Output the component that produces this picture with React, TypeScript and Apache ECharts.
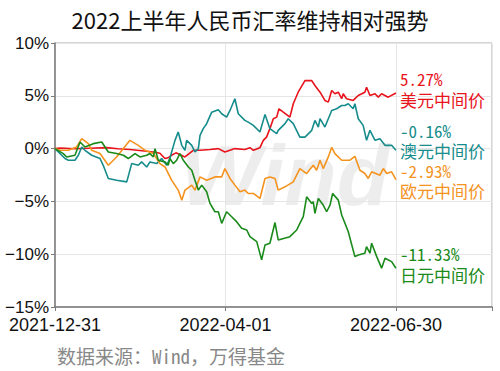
import React, { useEffect, useRef } from "react";
import * as echarts from "echarts";

const chartTitle = "2022上半年人民币汇率维持相对强势";
const sourceText = "数据来源：Wind，万得基金";
const watermarkText = "Wind";
const xTickDays = [0, 91, 181];
const xTickLabels = ["2021-12-31", "2022-04-01", "2022-06-30"];
const seriesNames = ["美元中间价", "澳元中间价", "欧元中间价", "日元中间价"];
const seriesColors = ["#E8131B", "#168C8C", "#F5931F", "#1A8A1A"];

// [days since 2021-12-31, cumulative change %]
const usd: [number, number][] = [
  [0, 0], [2.7, 0.06], [10.6, -0.02], [18.6, 0.03], [27.4, 0.09], [33.4, -0.02], [39.8, -0.09],
  [48.7, -0.25], [53.1, -0.35], [55.7, -0.44], [58.4, -0.94], [60, -0.87], [61.9, -0.63], [64.2, -0.4],
  [69, -0.79], [73.4, -0.16], [77, -0.16], [82.3, -0.09], [86.7, 0], [90.2, -0.32], [95.5, 0],
  [100.8, -0.09], [103.5, 0.09], [105.3, -0.16], [108.8, 0.09], [110.6, 0.78], [112.3, 1.09],
  [114.1, 1.89], [115.9, 2.83], [117.7, 2.98], [118.9, 3.77], [121.2, 3.45], [124.7, 2.98],
  [126.5, 4.25], [129.1, 5.34], [132.7, 6.44], [136.3, 6.44], [138, 5.97], [140.7, 5.34],
  [143.3, 4.56], [145.1, 4.4], [146.9, 5.5], [148.6, 5.19], [150.4, 5.34], [152.2, 4.72], [153, 5.19],
  [154.8, 4.72], [158.3, 4.56], [161, 5.03], [164.5, 5.34], [165.4, 5.81], [167.2, 5.03], [169.9, 5.19],
  [171.6, 4.87], [173.4, 5.19], [176.9, 4.87], [181, 5.27],
];
const aud: [number, number][] = [
  [0, 0], [5.3, -0.94], [7.1, -1.1], [10.6, -1.1], [12.4, -0.63], [14.2, 0.15], [15.9, -0.16],
  [19.5, -0.63], [23.9, -0.94], [25.6, -1.58], [28.3, -2.83], [32.7, -2.99], [38.1, -3.15],
  [40.7, -1.42], [44.2, -1.58], [46, -1.26], [48.7, -1.74], [50.4, -1.26], [54, -1.42], [56.6, -0.94],
  [59.3, -1.58], [61, -0.92], [63.7, 0.78], [65.4, 1.57], [67.3, 0.31], [69, -0.16], [69.9, 0.78],
  [72.6, 0.31], [74.3, -0.32], [76.1, 0], [77, 1.25], [78.7, 1.89], [80.5, 2.36], [83.2, 3.45],
  [86.7, 3.68], [88.5, 3.3], [91.1, 2.98], [92.9, 3.61], [95.5, 4.72], [97.3, 3.3], [100.8, 2.67],
  [102.6, 2.51], [105.3, 2.2], [108.8, 1.57], [111.5, 3.24], [114.1, 1.89], [117.7, 1.42],
  [118.5, 1.73], [122.1, 2.36], [123.8, 2.83], [126.5, 2.36], [127.4, 2.04], [130, 1.09],
  [132.7, 1.09], [136.3, 1.73], [138, 2.67], [139.8, 2.04], [140.7, 2.83], [143.3, 2.04],
  [146.9, 3.61], [149.5, 3.77], [152.2, 4.08], [153.9, 4.08], [155.7, 4.25], [158.3, 3.77],
  [159.2, 4.25], [161, 2.83], [163.6, 2.2], [165.4, 0.78], [167.2, 1.73], [169.9, 0.78],
  [172.5, 0.94], [175.2, 0.31], [178.7, 0.31], [181, -0.16],
];
const eur: [number, number][] = [
  [0, 0], [2.7, -0.16], [7.1, -0.16], [11.5, 0.15], [14.2, 0.94], [17.7, 0.47], [19.5, -0.16],
  [23.9, -0.47], [28.3, -1.58], [32.7, -0.79], [39.8, 0.78], [44.2, 0.31], [47.8, -0.16],
  [52.2, -0.47], [55.7, -1.42], [58.4, -1.74], [61.9, -2.99], [65.4, -3.93], [67.3, -4.88],
  [69, -3.93], [72.6, -3.46], [74.3, -3.93], [77, -2.68], [80.5, -2.99], [84.9, -2.68],
  [88.5, -2.68], [90.2, -1.89], [92.9, -2.83], [95.5, -3.46], [98.2, -4.09], [100.8, -3.93],
  [102.6, -4.25], [105.3, -4.25], [108.8, -4.72], [111.5, -2.83], [114.1, -2.68], [116.8, -2.83],
  [118.5, -3.93], [122.1, -3.62], [126.5, -3.15], [130, -1.89], [133.6, -2.36], [137.1, -1.58],
  [138.9, -2.05], [140.7, -1.1], [142.4, -1.89], [145.1, -0.79], [146.9, 0.12], [148.6, -0.47],
  [152.2, -1.1], [156.6, -1.1], [159.2, -0.73], [161.9, -2.05], [164.5, -2.36], [166.3, -2.83],
  [168.1, -2.2], [172.5, -2.52], [174.3, -1.89], [176.1, -2.36], [178.7, -2.2], [181, -2.93],
];
const jpy: [number, number][] = [
  [0, 0], [4.4, -0.47], [6.2, -0.79], [10.6, -0.63], [13.3, 0.62], [15.9, 0.15], [20.3, 0.47],
  [24.8, 0.62], [28.3, -0.32], [32.7, -0.47], [36.3, -0.63], [38.9, -0.94], [42.5, -0.47],
  [45.1, -0.79], [48.7, -0.63], [50.4, -0.47], [52.2, -0.79], [53.1, 0], [54.8, -1.1], [58.4, -1.26],
  [60.1, -1.58], [61, -0.94], [62.8, -1.42], [64.6, -1.1], [66.3, -0.47], [68.1, -1.1],
  [70.8, -1.74], [72.6, -2.05], [74.3, -2.99], [76.1, -3.93], [77.9, -3.46], [80.5, -4.09],
  [82.3, -5.19], [84.9, -5.98], [86.7, -5.98], [88.5, -7.08], [91.1, -5.98], [93.8, -6.45],
  [96.4, -6.92], [99.1, -7.55], [101.8, -7.71], [103.5, -8.34], [107.1, -8.81], [109.7, -10.54],
  [111.5, -9.12], [114.1, -8.96], [116.8, -7.0], [118.5, -8.65], [124.7, -8.34], [128.3, -7.71],
  [130, -7.08], [131.8, -6.45], [133.6, -4.57], [136.3, -5.19], [137.1, -5.03], [138, -6.13],
  [139.8, -4.72], [142.4, -5.35], [144.2, -5.98], [146, -5.35], [147.4, -4.25], [150.4, -4.88],
  [152.2, -6.29], [155.7, -7.87], [159.2, -10.23], [161, -10.07], [164.5, -9.91], [165.4, -9.28],
  [167.2, -9.91], [168.1, -8.96], [170.8, -10.23], [173.4, -11.32], [175.2, -10.38],
  [178.7, -10.7], [181, -11.33],
];
const seriesData = [usd, aud, eur, jpy];
const labelOffsets = [-4, -10, 1, -4];

const monoCJK = "'Noto Sans Mono CJK SC', 'Noto Sans CJK SC', monospace";

export default function App() {
  const ref = useRef<HTMLDivElement>(null);
  useEffect(() => {
    if (!ref.current) return;
    const chart = echarts.init(ref.current, null, { renderer: "svg" });
    chart.setOption({
      animation: false,
      backgroundColor: "#fff",
      title: {
        text: chartTitle,
        left: "center",
        top: 3,
        textStyle: { fontSize: 22, fontWeight: "normal", color: "#111", fontFamily: "'Noto Sans CJK SC', sans-serif" },
      },
      graphic: [
        {
          type: "text",
          x: 180,
          y: 175,
          z: 0,
          silent: true,
          style: {
            text: watermarkText,
            fontSize: 86,
            fontWeight: "bold",
            fontStyle: "italic",
            fontFamily: "'Liberation Sans', Arial, sans-serif",
            fill: "rgba(0,0,0,0.07)",
            verticalAlign: "middle",
          },
        },
        {
          type: "text",
          x: 57,
          y: 355,
          style: {
            text: sourceText,
            fontSize: 19,
            fontFamily: monoCJK,
            fill: "#888",
            verticalAlign: "middle",
          },
        },
      ],
      grid: {
        left: 55,
        right: 8,
        top: 43,
        bottom: 64,
        show: true,
        borderColor: "#aaaaaa",
        borderWidth: 1,
      },
      xAxis: {
        type: "value",
        min: 0,
        max: 232,
        interval: 90.5,
        axisLine: { show: true, onZero: false, lineStyle: { color: "#7a7a7a", width: 1.5 } },
        axisTick: { show: true, length: 4, lineStyle: { color: "#7a7a7a" } },
        axisLabel: {
          fontSize: 18,
          color: "#111",
          margin: 9,
          fontFamily: "'Liberation Sans', Arial, sans-serif",
          formatter: (v: number) => {
            const i = xTickDays.findIndex((d) => Math.abs(d - v) < 1);
            return i >= 0 ? xTickLabels[i] : "";
          },
        },
        splitLine: { show: true, lineStyle: { color: "#e6e6e6", width: 1 } },
      },
      yAxis: {
        type: "value",
        min: -15,
        max: 10,
        interval: 5,
        axisLine: { show: true, lineStyle: { color: "#7a7a7a", width: 1.5 } },
        axisTick: { show: true, length: 4, lineStyle: { color: "#7a7a7a" } },
        axisLabel: {
          fontSize: 17,
          color: "#111",
          margin: 6,
          fontFamily: "'Liberation Sans Narrow', 'Liberation Sans', Arial, sans-serif",
          formatter: (v: number) => (v < 0 ? "\u2212" + Math.abs(v) : String(v)) + "%",
        },
        splitLine: { show: true, lineStyle: { color: "#e6e6e6", width: 1 } },
      },
      series: seriesData.map((data, i) => ({
        name: seriesNames[i],
        type: "line",
        data,
        showSymbol: false,
        symbol: "none",
        z: 3,
        lineStyle: { color: seriesColors[i], width: 1.6 },
        itemStyle: { color: seriesColors[i] },
        endLabel: {
          show: true,
          distance: 4,
          offset: [0, labelOffsets[i]],
          color: seriesColors[i],
          fontSize: 17,
          lineHeight: 20.5,
          fontFamily: monoCJK,
          align: "left",
          formatter: (p: any) => `${(p.value[1] as number).toFixed(2)}%\n${p.seriesName}`,
        },
      })),
    });
    return () => chart.dispose();
  }, []);
  return <div ref={ref} style={{ width: 500, height: 371, position: "absolute", left: 0, top: 0 }} />;
}
